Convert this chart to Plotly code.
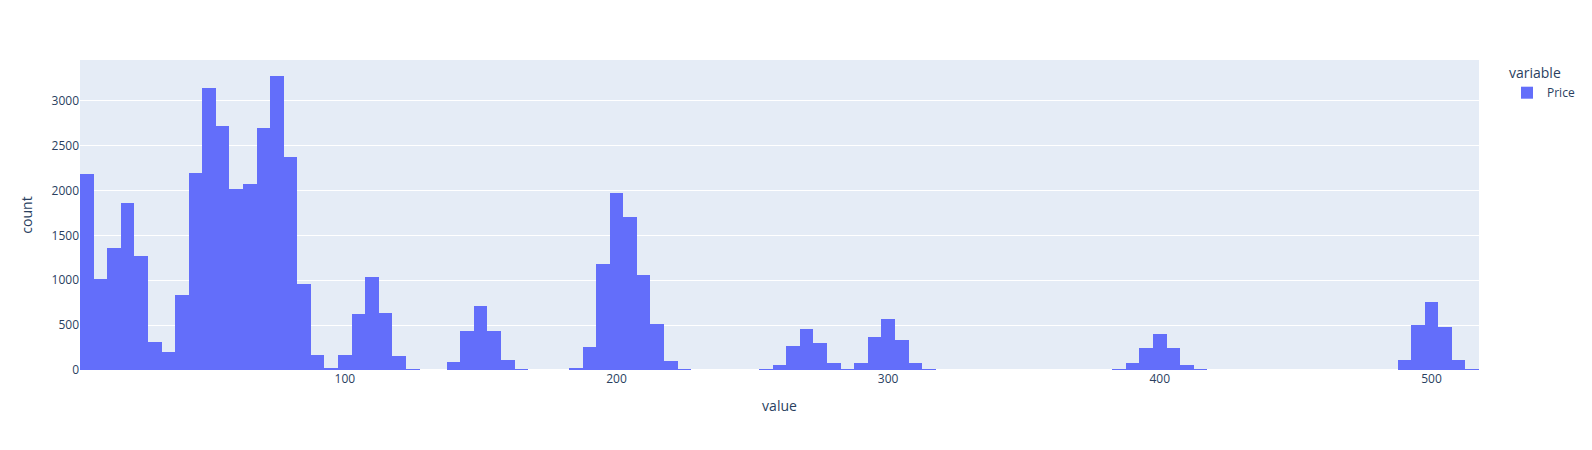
import plotly.graph_objects as go

# Bin centers (value) and counts (bin size 5)
bin_centers = [5, 10, 15, 20, 25, 30, 35, 40, 45, 50, 55, 60, 65, 70, 75, 80, 85, 90, 95,
               100, 105, 110, 115, 120, 125,
               140, 145, 150, 155, 160, 165,
               185, 190, 195, 200, 205, 210, 215, 220, 225,
               255, 260, 265, 270, 275, 280, 285, 290, 295, 300, 305, 310, 315,
               385, 390, 395, 400, 405, 410, 415,
               490, 495, 500, 505, 510, 515]
counts = [2181, 1009, 1355, 1857, 1265, 316, 205, 830, 2192, 3141, 2717, 2014, 2069, 2695, 3280, 2371, 953, 171, 26,
          171, 629, 1031, 640, 160, 4,
          93, 439, 718, 439, 115, 7,
          26, 261, 1176, 1969, 1701, 1053, 517, 104, 4,
          7, 60, 272, 462, 305, 82, 7, 82, 372, 573, 339, 82, 7,
          4, 74, 249, 406, 249, 60, 4,
          115, 506, 752, 484, 115, 7]

series_name = "Price"

fig = go.Figure()
fig.add_trace(go.Histogram(
    x=bin_centers,
    y=counts,
    histfunc="sum",
    xbins=dict(start=2.5, end=517.5, size=5),
    name=series_name,
    marker_color="#636efa",
    showlegend=True,
))

fig.update_layout(
    template="plotly",
    width=1592,
    height=450,
    margin=dict(t=60, b=80, l=80),
    bargap=0,
    legend=dict(title=dict(text="variable"), tracegroupgap=0),
    xaxis=dict(title=dict(text="value"), range=[2.5, 517.5]),
    yaxis=dict(title=dict(text="count")),
)

fig.write_html("out.html", config={"displayModeBar": False},
               post_script="document.body.style.margin='0';")
